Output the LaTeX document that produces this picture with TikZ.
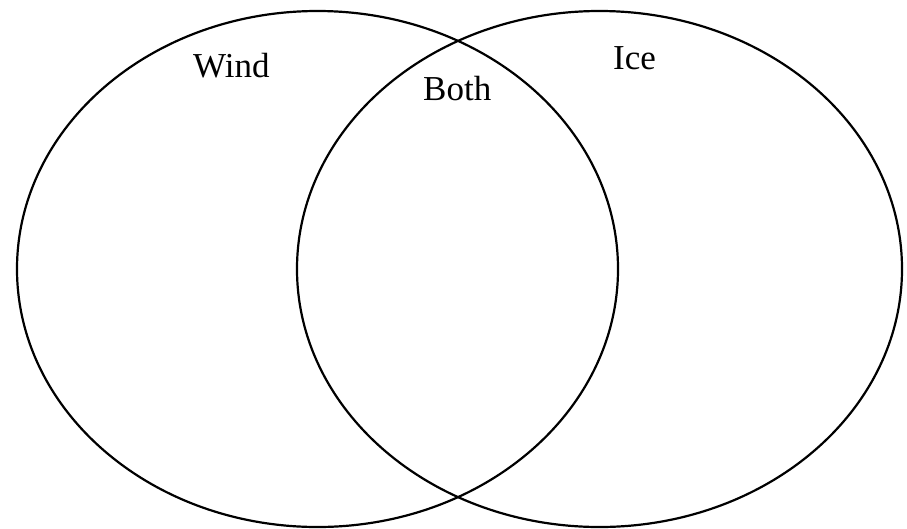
\documentclass[tikz,border=0pt]{standalone}
\usepackage{fontspec}
\setmainfont{Liberation Serif}
\begin{document}
\begin{tikzpicture}[x=1pt,y=-1pt,
  setline/.style={line width=2.2pt},
  setlabel/.style={anchor=base west,inner sep=0pt,font=\fontsize{35}{38}\selectfont}]
\useasboundingbox (0,0) rectangle (907,528);
\draw[setline] (317.5,269) ellipse [x radius=300.5, y radius=258];
\draw[setline] (599.5,269) ellipse [x radius=302.5, y radius=258];
\node[setlabel] (wind) at (193,77) {Wind};
\node[setlabel] (both) at (423,100) {Both};
\node[setlabel] (ice) at (613,69) {Ice};
\end{tikzpicture}
\end{document}
